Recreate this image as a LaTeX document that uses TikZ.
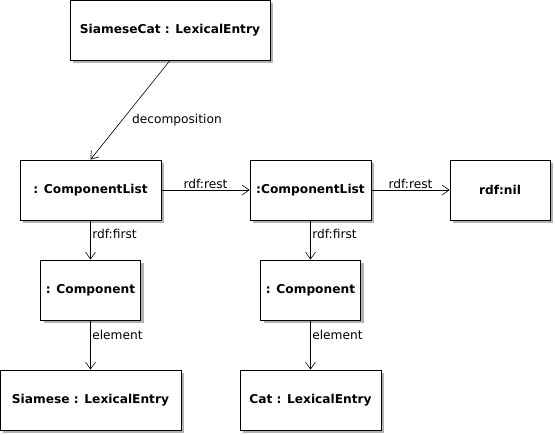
\documentclass[tikz,border=0pt]{standalone}
\usepackage{fontspec}
\setmainfont{DejaVu Sans}
\usetikzlibrary{arrows.meta}
\usetikzlibrary{shadows}

\tikzset{
  objbox/.style={draw, fill=white, line width=0.8pt, minimum height=60pt,
    inner sep=0pt, font=\bfseries\fontsize{12.2}{14}\selectfont,
    drop shadow={shadow xshift=3pt, shadow yshift=-3pt, fill=black!30, opacity=1}},
  link/.style={line width=0.6pt, -{Straight Barb[length=7pt,width=10pt]}},
  linklabel/.style={font=\fontsize{12.2}{14}\selectfont, inner sep=1.5pt},
}

\begin{document}
\begin{tikzpicture}[x=1pt,y=-1pt]

  \useasboundingbox (0,0) rectangle (555,435);

  % objects of the decomposition
  \node[objbox, minimum width=200pt] (siamesecat) at (170,30)    {SiameseCat : LexicalEntry};
  \node[objbox, minimum width=141pt] (listA)      at (90.5,190)  {: ComponentList};
  \node[objbox, minimum width=121pt] (listB)      at (310.5,190) {:ComponentList};
  \node[objbox, minimum width=100pt] (nil)        at (500,190)   {rdf:nil};
  \node[objbox, minimum width=100pt] (compA)      at (90.5,290)  {: Component};
  \node[objbox, minimum width=100pt] (compB)      at (310.5,290) {: Component};
  \node[objbox, minimum width=181pt] (siamese)    at (90.5,400)  {Siamese : LexicalEntry};
  \node[objbox, minimum width=141pt] (cat)        at (310.5,400) {Cat : LexicalEntry};

  % list structure
  \draw[link] (siamesecat.south) -- (listA.north)
    node[linklabel, right=8pt, pos=0.6] {decomposition};

  \draw[link] (listA.east) -- (listB.west)
    node[linklabel, above, midway] {rdf:rest};
  \draw[link] (listB.east) -- (nil.west)
    node[linklabel, above, midway] {rdf:rest};

  % first elements
  \draw[link] (listA.south) -- (compA.north)
    node[linklabel, right, pos=0.35] {rdf:first};
  \draw[link] (listB.south) -- (compB.north)
    node[linklabel, right, pos=0.35] {rdf:first};

  \draw[link] (compA.south) -- (siamese.north)
    node[linklabel, right, pos=0.3] {element};
  \draw[link] (compB.south) -- (cat.north)
    node[linklabel, right, pos=0.3] {element};

\end{tikzpicture}
\end{document}
